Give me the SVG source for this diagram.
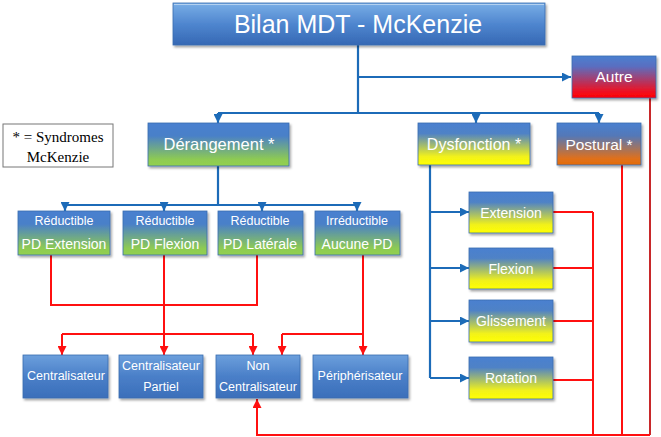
<svg xmlns="http://www.w3.org/2000/svg" width="661" height="437" viewBox="0 0 661 437">
<defs>
<linearGradient id="gTitle" x1="0" y1="0" x2="0" y2="1"><stop offset="0" stop-color="#79aee6"/><stop offset="0.5" stop-color="#4f86cf"/><stop offset="1" stop-color="#3568b4"/></linearGradient>
<linearGradient id="gBlue" x1="0" y1="0" x2="0" y2="1"><stop offset="0" stop-color="#6c9fdc"/><stop offset="0.5" stop-color="#4a7fc8"/><stop offset="1" stop-color="#3b6fba"/></linearGradient>
<linearGradient id="gGreen" x1="0" y1="0" x2="0" y2="1"><stop offset="0" stop-color="#4a80d0"/><stop offset="0.3" stop-color="#4a80c8"/><stop offset="0.85" stop-color="#8ecb52"/><stop offset="1" stop-color="#92d050"/></linearGradient>
<linearGradient id="gYellow" x1="0" y1="0" x2="0" y2="1"><stop offset="0" stop-color="#4a80d0"/><stop offset="0.25" stop-color="#4f82c6"/><stop offset="0.8" stop-color="#f2f21a"/><stop offset="1" stop-color="#ffff00"/></linearGradient>
<linearGradient id="gOrange" x1="0" y1="0" x2="0" y2="1"><stop offset="0" stop-color="#4a80d0"/><stop offset="0.3" stop-color="#5378b8"/><stop offset="0.85" stop-color="#e0701a"/><stop offset="1" stop-color="#e36c09"/></linearGradient>
<linearGradient id="gRed" x1="0" y1="0" x2="0" y2="1"><stop offset="0" stop-color="#4a80d0"/><stop offset="0.25" stop-color="#5a6ec0"/><stop offset="0.85" stop-color="#f01020"/><stop offset="1" stop-color="#ff0000"/></linearGradient>
<filter id="sh" x="-10%" y="-10%" width="130%" height="140%"><feDropShadow dx="1.5" dy="2" stdDeviation="1.2" flood-color="#000" flood-opacity="0.35"/></filter>
<marker id="ab" viewBox="0 0 10 10" refX="10" refY="5" markerWidth="9" markerHeight="9" markerUnits="userSpaceOnUse" orient="auto"><path d="M0,0 L10,5 L0,10 z" fill="#1c6bb8"/></marker>
<marker id="ar" viewBox="0 0 10 10" refX="10" refY="5" markerWidth="9" markerHeight="9" markerUnits="userSpaceOnUse" orient="auto"><path d="M0,0 L10,5 L0,10 z" fill="#ff1010"/></marker>
</defs>
<style>
.box{stroke:#3a6db0;stroke-width:0.8;filter:url(#sh)}
.t{font-family:"Liberation Sans",Arial,sans-serif;fill:#ffffff;text-anchor:middle}
.b{fill:none;stroke:#1c6bb8;stroke-width:2.2}
.r{fill:none;stroke:#ff1010;stroke-width:2}
.rd{fill:none;stroke:#c8282a;stroke-width:2}
.hl{fill:none;stroke:#ffffff;stroke-opacity:0.45;stroke-width:1}
</style>
<rect width="661" height="437" fill="#ffffff"/>

<g id="connectors">
<path class="b" d="M358,45 V113"/>
<path class="b" d="M358,77 H571" marker-end="url(#ab)"/>
<path class="b" d="M218,113 H599"/>
<path class="b" d="M218,113 V123" marker-end="url(#ab)"/>
<path class="b" d="M476,113 V123" marker-end="url(#ab)"/>
<path class="b" d="M599,113 V123" marker-end="url(#ab)"/>
<path class="b" d="M218,166 V205"/>
<path class="b" d="M65,205 H357"/>
<path class="b" d="M65,205 V211" marker-end="url(#ab)"/>
<path class="b" d="M164,205 V211" marker-end="url(#ab)"/>
<path class="b" d="M262,205 V211" marker-end="url(#ab)"/>
<path class="b" d="M357,205 V211" marker-end="url(#ab)"/>
<path class="b" d="M430,165 V378"/>
<path class="b" d="M430,212 H469" marker-end="url(#ab)"/>
<path class="b" d="M430,268 H469" marker-end="url(#ab)"/>
<path class="b" d="M430,321 H469" marker-end="url(#ab)"/>
<path class="b" d="M430,378 H469" marker-end="url(#ab)"/>
<path class="r" d="M51,255 V305 H257 V255"/>
<path class="r" d="M164,255 V355" marker-end="url(#ar)"/>
<path class="r" d="M62,334 H253"/>
<path class="r" d="M62,334 V355" marker-end="url(#ar)"/>
<path class="r" d="M253,334 V355" marker-end="url(#ar)"/>
<path class="r" d="M363,255 V355" marker-end="url(#ar)"/>
<path class="r" d="M282,334 H363"/>
<path class="r" d="M282,334 V355" marker-end="url(#ar)"/>
<path class="r" d="M553,212 H593 M553,268 H593 M553,321 H593 M553,380 H593"/>
<path class="r" d="M593,212 V435"/>
<path class="r" d="M622,165 V435"/>
<path class="rd" d="M650,98 V435"/>
<path class="r" d="M650,435 H257 V399" marker-end="url(#ar)"/>
</g>

<g id="title">
<rect class="box" x="173" y="3" width="372" height="42" fill="url(#gTitle)"/>
<path class="hl" d="M174,4.5 H544"/>
<text class="t" x="358" y="33" font-size="25">Bilan MDT - McKenzie</text>
</g>
<g id="autre">
<rect class="box" x="572" y="56" width="84" height="42" fill="url(#gRed)"/>
<text class="t" x="614" y="82" font-size="15.5">Autre</text>
</g>
<g id="legend">
<rect x="3" y="124" width="110" height="43" fill="#ffffff" stroke="#777777" stroke-width="1"/>
<text x="58" y="142" font-family="'Liberation Serif','Times New Roman',serif" font-size="15" text-anchor="middle" fill="#000">* = Syndromes</text>
<text x="58" y="162" font-family="'Liberation Serif','Times New Roman',serif" font-size="15" text-anchor="middle" fill="#000">McKenzie</text>
</g>
<g id="derangement">
<rect class="box" x="148" y="123" width="141" height="43" fill="url(#gGreen)"/>
<text class="t" x="219" y="150" font-size="16.5">Dérangement *</text>
</g>
<g id="dysfonction">
<rect class="box" x="418" y="123" width="112" height="42" fill="url(#gYellow)"/>
<text class="t" x="474" y="150" font-size="16">Dysfonction *</text>
</g>
<g id="postural">
<rect class="box" x="557" y="123" width="84" height="42" fill="url(#gOrange)"/>
<text class="t" x="599" y="150" font-size="15.5">Postural *</text>
</g>
<g id="red-ext">
<rect class="box" x="18" y="211" width="92" height="44" fill="url(#gGreen)"/>
<text class="t" x="64" y="225" font-size="12.5">Réductible</text>
<text class="t" x="64" y="249" font-size="14">PD Extension</text>
</g>
<g id="red-flex">
<rect class="box" x="123" y="211" width="84" height="44" fill="url(#gGreen)"/>
<text class="t" x="165" y="225" font-size="12.5">Réductible</text>
<text class="t" x="165" y="249" font-size="14">PD Flexion</text>
</g>
<g id="red-lat">
<rect class="box" x="218" y="211" width="85" height="44" fill="url(#gGreen)"/>
<text class="t" x="260" y="225" font-size="12.5">Réductible</text>
<text class="t" x="260" y="249" font-size="14">PD Latérale</text>
</g>
<g id="irred">
<rect class="box" x="315" y="211" width="85" height="44" fill="url(#gGreen)"/>
<text class="t" x="357" y="225" font-size="12.5">Irréductible</text>
<text class="t" x="357" y="249" font-size="14">Aucune PD</text>
</g>
<g id="extension">
<rect class="box" x="469" y="192" width="84" height="41" fill="url(#gYellow)"/>
<text class="t" x="511" y="218" font-size="14">Extension</text>
</g>
<g id="flexion">
<rect class="box" x="469" y="248" width="84" height="41" fill="url(#gYellow)"/>
<text class="t" x="511" y="274" font-size="14">Flexion</text>
</g>
<g id="glissement">
<rect class="box" x="469" y="300" width="84" height="42" fill="url(#gYellow)"/>
<text class="t" x="511" y="326" font-size="14">Glissement</text>
</g>
<g id="rotation">
<rect class="box" x="469" y="357" width="84" height="42" fill="url(#gYellow)"/>
<text class="t" x="511" y="383" font-size="14">Rotation</text>
</g>
<g id="centralisateur">
<rect class="box" x="23" y="355" width="85" height="43" fill="url(#gBlue)"/>
<text class="t" x="66" y="380" font-size="12.5">Centralisateur</text>
</g>
<g id="centralisateur-partiel">
<rect class="box" x="119" y="355" width="84" height="43" fill="url(#gBlue)"/>
<text class="t" x="161" y="370" font-size="12.5">Centralisateur</text>
<text class="t" x="161" y="391" font-size="12.5">Partiel</text>
</g>
<g id="non-centralisateur">
<rect class="box" x="216" y="355" width="84" height="43" fill="url(#gBlue)"/>
<text class="t" x="258" y="370" font-size="12.5">Non</text>
<text class="t" x="258" y="391" font-size="12.5">Centralisateur</text>
</g>
<g id="peripherisateur">
<rect class="box" x="313" y="355" width="95" height="43" fill="url(#gBlue)"/>
<text class="t" x="360" y="380" font-size="12.5">Périphérisateur</text>
</g>
</svg>
